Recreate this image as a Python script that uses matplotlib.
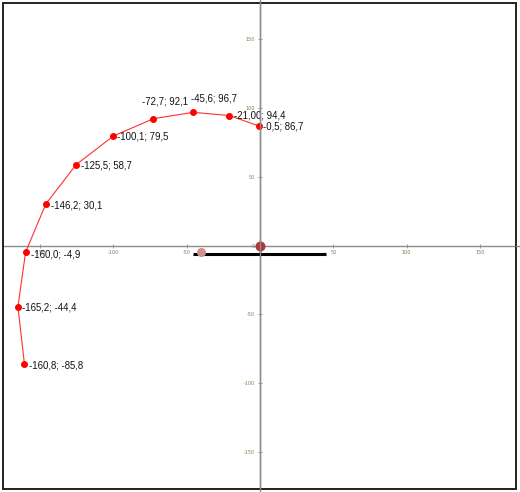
import matplotlib
matplotlib.use("Agg")
import matplotlib.pyplot as plt
from matplotlib.patches import Rectangle
from matplotlib.lines import Line2D

# curve points
xs = [-160.8, -165.2, -160.0, -146.2, -125.5, -100.1, -72.7, -45.6, -21.0, -0.5]
ys = [-85.8, -44.4, -4.9, 30.1, 58.7, 79.5, 92.1, 96.7, 94.4, 86.7]
point_labels = ["-160,8; -85,8", "-165,2; -44,4", "-160,0; -4,9", "-146,2; 30,1",
                "-125,5; 58,7", "-100,1; 79,5", "-72,7; 92,1", "-45,6; 96,7",
                "-21,00; 94,4", "-0,5; 86,7"]

# extra objects
bar_x = [-45.7, 45.0]
bar_y = [-6.5, -6.5]
pink_pt = (-40.3, -5.0)
origin_pt = (0.0, 0.0)

ticks = [-150, -100, -50, 0, 50, 100, 150]

# label offsets in pixels (dx, dy)
offsets = [(5, -2), (4, -1), (5, -2), (5, -1), (5, -1), (4, 0),
           (-11, 17), (-2, 14), (5, 0), (4, 0)]

fig = plt.figure(figsize=(5.2, 4.92), dpi=100)
ax = fig.add_axes([3 / 520, 3 / 492, 513 / 520, 486 / 492])
ax.set_xlim(-175.4, 174.7)
ax.set_ylim(-176.8, 176.1)

axis_col = "#8c8c8c"
for s in ["top", "right"]:
    ax.spines[s].set_visible(False)
for s in ["left", "bottom"]:
    ax.spines[s].set_position("zero")
    ax.spines[s].set_color(axis_col)
    ax.spines[s].set_linewidth(1.0)

ax.set_xticks(ticks)
ax.set_yticks(ticks)
ax.set_xticklabels([str(t) for t in ticks])
ax.set_yticklabels([str(t) for t in ticks])
ax.tick_params(direction="inout", length=3, width=0.6, color=axis_col,
               labelsize=3.5, labelcolor="#8a7a55", pad=2)

# frame
ax.add_patch(Rectangle((0, 0), 1, 1, transform=ax.transAxes, fill=False,
                       edgecolor="#222222", linewidth=1.4, clip_on=False, zorder=5))

# axis line extensions beyond frame
fig.add_artist(Line2D([260 / 520, 260 / 520], [0, 1], color=axis_col, lw=1.0))
fig.add_artist(Line2D([516 / 520, 1], [1 - 245.5 / 492, 1 - 245.5 / 492], color=axis_col, lw=1.0))

ax.plot(xs, ys, color="#ff3030", lw=0.8, marker="o", markersize=4,
        markerfacecolor="#ff0000", markeredgecolor="#ff0000", zorder=3)

for x, y, lab, (dx, dy) in zip(xs, ys, point_labels, offsets):
    ax.annotate(lab, (x, y), xytext=(dx, dy), textcoords="offset pixels",
                ha="left", va="center", fontsize=6.9, family="Liberation Sans",
                color="#111111", zorder=4)

ax.plot(bar_x, bar_y, color="black", lw=2.2, solid_capstyle="butt", zorder=3)
ax.plot([pink_pt[0]], [pink_pt[1]], "o", color="#d09090", markersize=5.5, zorder=4)
ax.plot([origin_pt[0]], [origin_pt[1]], "o", color="#b03838", markersize=6.2, zorder=4)

fig.savefig("out.png", dpi=100)
